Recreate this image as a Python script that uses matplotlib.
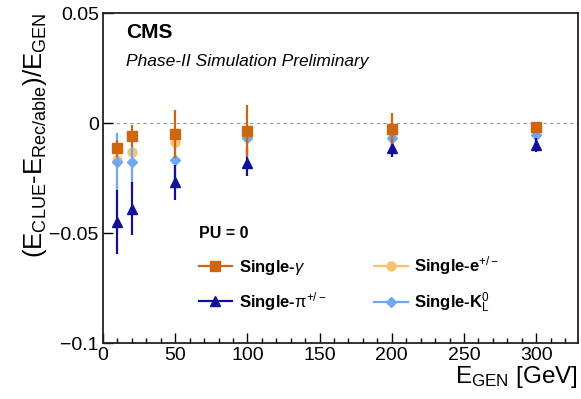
import matplotlib
matplotlib.use("Agg")
import matplotlib.pyplot as plt
from matplotlib.lines import Line2D
from matplotlib.ticker import MultipleLocator

plt.rcParams['font.family'] = ['Liberation Sans', 'DejaVu Sans']
plt.rcParams['mathtext.fontset'] = 'custom'
plt.rcParams['mathtext.rm'] = 'Liberation Sans'
plt.rcParams['mathtext.it'] = 'Liberation Sans:italic'
plt.rcParams['mathtext.bf'] = 'Liberation Sans:bold'

# Generated energy points (GeV)
energy = [10, 20, 50, 100, 200, 300]

# Relative energy bias per particle type, with uncertainties
gamma = [-0.0115, -0.006, -0.005, -0.0036, -0.0025, -0.002]
gamma_err = [0.004, 0.005, 0.011, 0.012, 0.007, 0.002]
elec = [-0.017, -0.013, -0.0087, -0.005, -0.004, -0.003]
elec_err = [0.003, 0.003, 0.003, 0.003, 0.002, 0.002]
pion = [-0.045, -0.039, -0.027, -0.018, -0.0115, -0.010]
pion_err = [0.0145, 0.012, 0.008, 0.006, 0.004, 0.003]
kaon = [-0.0177, -0.0177, -0.017, -0.007, -0.0068, -0.0055]
kaon_err = [0.013, 0.012, 0.010, 0.006, 0.004, 0.003]

c_gamma = '#CC6611'
c_elec = '#F5C46E'
c_pion = '#111199'
c_kaon = '#6FA8F0'

fig = plt.figure(figsize=(5.81, 3.99), dpi=100)
ax = fig.add_axes([103/581, 1 - 343/399, 475/581, 330/399])

ax.axhline(0, color='#999999', lw=0.8, ls=(0, (3, 3)), zorder=1)

ax.errorbar(energy, elec, yerr=elec_err, fmt='o', color=c_elec, ms=6.5, lw=1.6, capsize=0, zorder=2)
ax.errorbar(energy, kaon, yerr=kaon_err, fmt='D', color=c_kaon, ms=5, lw=1.6, capsize=0, zorder=3)
ax.errorbar(energy, pion, yerr=pion_err, fmt='^', color=c_pion, ms=6.5, lw=1.6, capsize=0, zorder=4)
ax.errorbar(energy, gamma, yerr=gamma_err, fmt='s', color=c_gamma, ms=6.5, lw=1.6, capsize=0, zorder=5)

ax.set_xlim(0, 329)
ax.set_ylim(-0.1, 0.05)
ax.set_yticks([-0.1, -0.05, 0, 0.05])
ax.set_yticklabels(['\u22120.1', '\u22120.05', '0', '0.05'])
ax.xaxis.set_major_locator(MultipleLocator(50))
ax.xaxis.set_minor_locator(MultipleLocator(10))
ax.tick_params(axis='both', which='major', direction='in', length=7, width=1, labelsize=14, pad=3)
ax.tick_params(axis='x', which='minor', direction='in', length=3.5, width=1)
for s in ax.spines.values():
    s.set_linewidth(1.3)
    s.set_color('#222222')

ax.set_ylabel(r'(E$_{\rm CLUE}$-E$_{\rm Rec/able}$)/E$_{\rm GEN}$', fontsize=18.5, loc='top', labelpad=0)
ax.set_xlabel(r'E$_{\rm GEN}$ [GeV]', fontsize=17.5, loc='right', labelpad=0)

ax.text(0.048, 0.97, 'CMS', transform=ax.transAxes, fontsize=15, fontweight='bold', va='top')
ax.text(0.048, 0.875, 'Phase-II Simulation Preliminary', transform=ax.transAxes, fontsize=12.5,
        style='italic', va='top')

handles = [
    Line2D([], [], color=c_gamma, marker='s', ms=6.5, lw=1.6),
    Line2D([], [], color=c_pion, marker='^', ms=6.5, lw=1.6),
    Line2D([], [], color=c_elec, marker='o', ms=6.5, lw=1.6),
    Line2D([], [], color=c_kaon, marker='D', ms=5, lw=1.6),
]
labels = [r'Single-$\gamma$', r'Single-$\rm\pi^{+/-}$', r'Single-e$^{+/-}$', r'Single-K$^{0}_{\rm L}$']
leg = ax.legend(handles, labels, ncol=2, frameon=False, loc='upper left',
                bbox_to_anchor=(0.17, 0.4), title='PU = 0', alignment='left',
                prop={'weight': 'bold', 'size': 12}, handlelength=2.0, handletextpad=0.4,
                columnspacing=2.9, labelspacing=0.8)
leg.get_title().set_fontweight('bold')
leg.get_title().set_fontsize(11.5)

fig.savefig('out.png', dpi=100)
